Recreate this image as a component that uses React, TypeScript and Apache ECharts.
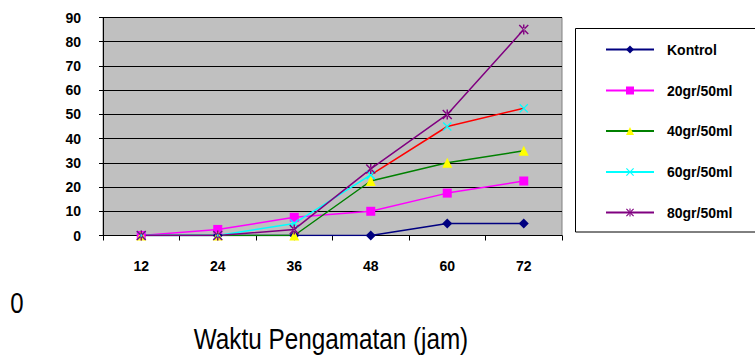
import React, { useEffect, useRef } from "react";
import * as echarts from "echarts";

const hours = ["12", "24", "36", "48", "60", "72"];
const yTicks = { min: 0, max: 90, interval: 10 };
const kontrol = [0, 0, 0, 0, 5, 5];
const g20 = [0, 2.5, 7.5, 10, 17.5, 22.5];
const g40 = [0, 0, 0, 22.5, 30, 35];
const g60 = [0, 0, 5, 25, 45, 52.5];
const g80 = [0, 0, 2.5, 27.5, 50, 85];
const names = ["Kontrol", "20gr/50ml", "40gr/50ml", "60gr/50ml", "80gr/50ml"];
const xTitle = "Waktu Pengamatan (jam)";
const strayLabel = "0";

const X_SYM = "path://M1,0 L5,4 L9,0 L10,1 L6,5 L10,9 L9,10 L5,6 L1,10 L0,9 L4,5 L0,1 Z";
const AST_SYM =
  "path://M1,0 L5,4 L9,0 L10,1 L6,5 L10,9 L9,10 L5,6 L1,10 L0,9 L4,5 L0,1 Z M4.3,0 L4.3,10 L5.7,10 L5.7,0 Z";

const FONT = '"Liberation Sans", Arial, sans-serif';

export default function App() {
  const ref = useRef<HTMLDivElement>(null);
  useEffect(() => {
    if (!ref.current) return;
    const chart = echarts.init(ref.current, null, { renderer: "svg" });
    const split = 3;
    const g60a = g60.map((v, i) => (i <= split ? v : null));
    const g60b = g60.map((v, i) => (i >= split ? v : null));
    const legendCenters = [49.5, 90.5, 131, 172, 212.5];
    const lineW = 1.5;
    const boldText = { fontFamily: FONT, fontWeight: "bold", fontSize: 14, color: "#000" };
    const option: any = {
      animation: false,
      backgroundColor: "#ffffff",
      grid: {
        left: 103,
        top: 17.5,
        width: 459,
        height: 218,
        show: true,
        backgroundColor: "#C0C0C0",
        borderColor: "#808080",
        borderWidth: 1,
      },
      xAxis: {
        type: "category",
        data: hours,
        boundaryGap: true,
        axisLine: { lineStyle: { color: "#000", width: 1 } },
        axisTick: { show: true, length: 5, lineStyle: { color: "#000" } },
        axisLabel: { margin: 23, ...boldText },
        splitLine: { show: false },
      },
      yAxis: {
        type: "value",
        min: yTicks.min,
        max: yTicks.max,
        interval: yTicks.interval,
        axisLine: { show: true, lineStyle: { color: "#000", width: 1 } },
        axisTick: { show: true, length: 4, lineStyle: { color: "#000" } },
        axisLabel: { margin: 22, ...boldText },
        splitLine: { show: true, lineStyle: { color: "#000", width: 1 } },
      },
      legend: names.map((n, i) => ({
        data: [n],
        orient: "vertical",
        left: 605,
        top: legendCenters[i] - 7,
        padding: 0,
        itemWidth: 48,
        itemHeight: 10,
        itemGap: 5,
        selectedMode: false,
        textStyle: { ...boldText, padding: [0, 0, 0, 8] },
      })),
      graphic: [
        {
          type: "rect",
          shape: { x: 575.5, y: 28.5, width: 200, height: 203.5 },
          style: { fill: "#fff", stroke: "#000", lineWidth: 1 },
          z: -1,
        },
        {
          type: "text",
          x: 17,
          y: 303,
          scaleX: 0.8,
          style: {
            text: strayLabel,
            fontFamily: FONT,
            fontSize: 30,
            fill: "#000",
            align: "center",
            verticalAlign: "middle",
          },
        },
        {
          type: "text",
          x: 331,
          y: 339,
          scaleX: 0.81,
          style: {
            text: xTitle,
            fontFamily: FONT,
            fontSize: 30,
            fill: "#000",
            align: "center",
            verticalAlign: "middle",
          },
        },
      ],
      series: [
        {
          name: names[0],
          type: "line",
          data: kontrol,
          symbol: "diamond",
          symbolSize: 10,
          lineStyle: { color: "#000080", width: lineW },
          itemStyle: { color: "#000080" },
        },
        {
          name: names[1],
          type: "line",
          data: g20,
          symbol: "rect",
          symbolSize: 9,
          lineStyle: { color: "#FF00FF", width: lineW },
          itemStyle: { color: "#FF00FF" },
        },
        {
          name: names[2],
          type: "line",
          data: g40,
          symbol: "triangle",
          symbolSize: 10,
          lineStyle: { color: "#008000", width: lineW },
          itemStyle: { color: "#FFFF00" },
        },
        {
          name: names[3],
          type: "line",
          data: g60a,
          symbol: X_SYM,
          symbolSize: 9,
          lineStyle: { color: "#00FFFF", width: lineW },
          itemStyle: { color: "#00FFFF" },
        },
        {
          name: names[3] + " (lanjutan)",
          type: "line",
          data: g60b,
          symbol: X_SYM,
          symbolSize: 9,
          lineStyle: { color: "#FF0000", width: lineW },
          itemStyle: { color: "#00FFFF" },
        },
        {
          name: names[4],
          type: "line",
          data: g80,
          symbol: AST_SYM,
          symbolSize: 10,
          lineStyle: { color: "#800080", width: lineW },
          itemStyle: { color: "#800080" },
        },
      ],
    };
    chart.setOption(option);
    return () => chart.dispose();
  }, []);
  return (
    <div
      ref={ref}
      style={{ position: "absolute", left: 0, top: 0, width: 755, height: 358 }}
    />
  );
}
